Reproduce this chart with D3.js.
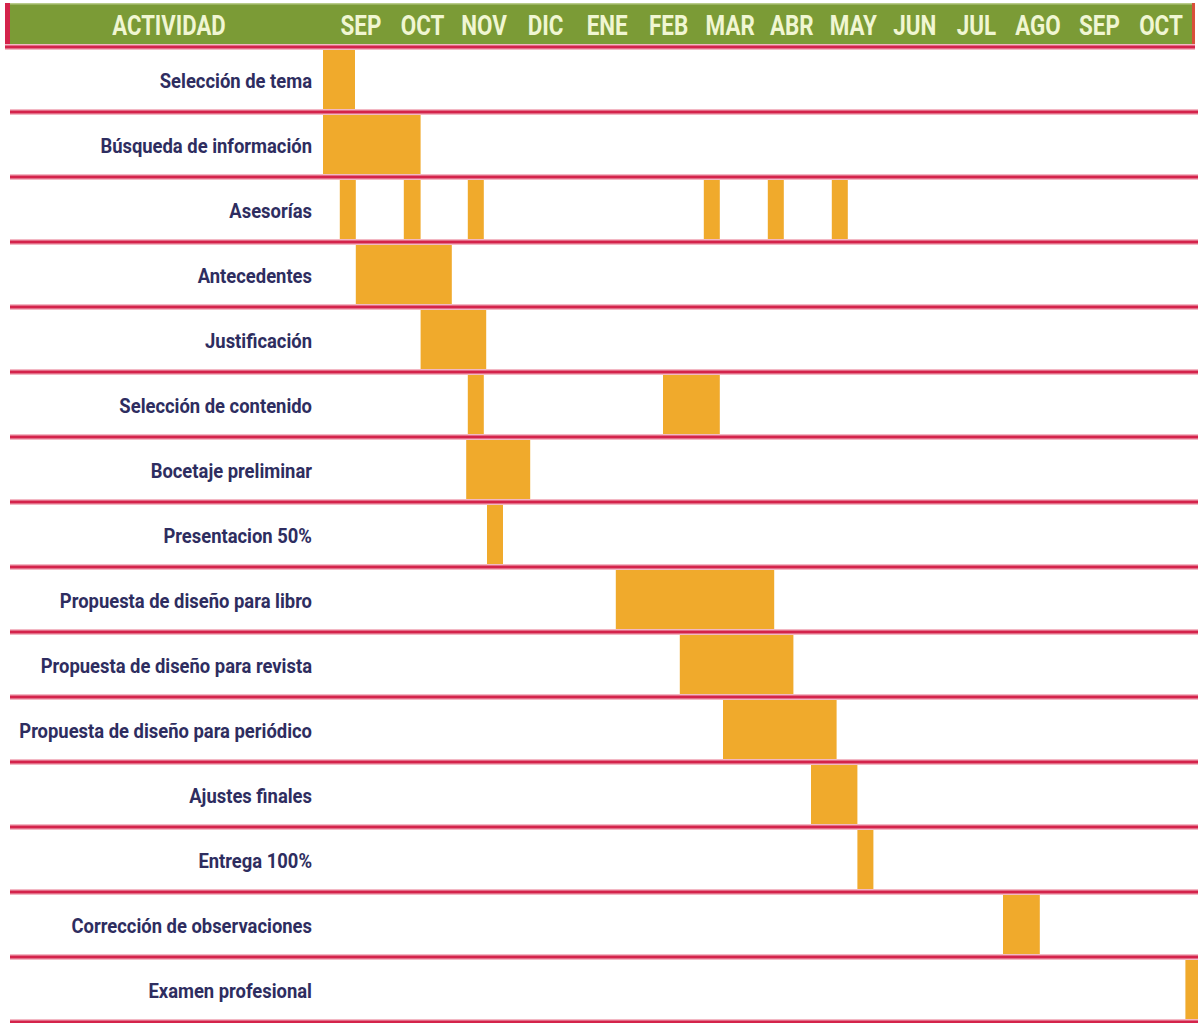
<!DOCTYPE html>
<html>
<head>
<meta charset="utf-8">
<script src="https://cdn.jsdelivr.net/npm/d3@7/dist/d3.min.js"></script>
<style>
  html, body { margin: 0; padding: 0; background: #ffffff; }
  svg { display: block; }
</style>
</head>
<body>
<svg id="chart" width="1198" height="1023"></svg>
<script>
// ---- DATA ----
const headerTitle = "ACTIVIDAD";
const months = ["SEP","OCT","NOV","DIC","ENE","FEB","MAR","ABR","MAY","JUN","JUL","AGO","SEP","OCT"];
const activities = [
  "Selección de tema",
  "Búsqueda de información",
  "Asesorías",
  "Antecedentes",
  "Justificación",
  "Selección de contenido",
  "Bocetaje preliminar",
  "Presentacion 50%",
  "Propuesta de diseño para libro",
  "Propuesta de diseño para revista",
  "Propuesta de diseño para periódico",
  "Ajustes finales",
  "Entrega 100%",
  "Corrección de observaciones",
  "Examen profesional"
];
// bars: activity index, start and end (in weeks from the start of the schedule)
const barTask  = [0, 1, 2, 2, 2, 2, 2, 2, 3, 4, 5, 5, 6, 7, 8, 9, 10, 11, 12, 13, 14];
const barStart = [0, 0, 1.05, 5.05, 9.05, 23.8, 27.8, 31.8, 2.05, 6.1, 9.05, 21.25, 8.95, 10.25, 18.3, 22.3, 25, 30.5, 33.4, 42.5, 53.9];
const barEnd   = [2, 6.1, 2.05, 6.1, 10.05, 24.8, 28.8, 32.8, 8.05, 10.2, 10.05, 24.8, 12.95, 11.25, 28.2, 29.4, 32.1, 33.4, 34.4, 44.8, 55];
const weeksTotal = 55;

// ---- STYLE ----
const green = "#7b9b36";
const headText = "#f0f6d2";
const red = "#d4234b";
const bar = "#f0aa2c";
const labelColor = "#2e2d60";

const svg = d3.select("#chart");

const x = d3.scaleLinear().domain([0, weeksTotal]).range([323, 1203]);
const y = d3.scaleBand().domain(activities).range([47, 1022]).padding(0);
const xm = d3.scalePoint().domain(d3.range(months.length)).range([361, 1161]);

// header band
svg.append("rect").attr("x", 5).attr("y", 3).attr("width", 1190).attr("height", 44).attr("fill", green);
svg.append("rect").attr("x", 5).attr("y", 3).attr("width", 1190).attr("height", 1.5).attr("fill", "#b9cc8a");
svg.append("rect").attr("x", 5).attr("y", 3).attr("width", 5).attr("height", 45).attr("fill", red);
svg.append("rect").attr("x", 1192).attr("y", 3).attr("width", 3).attr("height", 45).attr("fill", "#d9503a");

function condense(sel, factor) {
  sel.each(function() {
    const w = this.getComputedTextLength();
    d3.select(this).attr("textLength", w * factor).attr("lengthAdjust", "spacingAndGlyphs");
  });
}

const headFont = "Roboto, 'Liberation Sans', sans-serif";
svg.append("text")
  .attr("x", 169).attr("y", 35)
  .attr("text-anchor", "middle")
  .attr("font-family", headFont).attr("font-weight", 700).attr("font-size", 28)
  .attr("fill", headText)
  .text(headerTitle)
  .call(condense, 0.79);

svg.append("g").selectAll("text").data(months).join("text")
  .attr("x", (d, i) => xm(i)).attr("y", 35)
  .attr("text-anchor", "middle")
  .attr("font-family", headFont).attr("font-weight", 700).attr("font-size", 28)
  .attr("fill", headText)
  .text(d => d)
  .call(condense, 0.8);

// bars
svg.append("g").selectAll("rect").data(barTask).join("rect")
  .attr("x", (d, i) => x(barStart[i]))
  .attr("width", (d, i) => x(barEnd[i]) - x(barStart[i]))
  .attr("y", d => y(activities[d]))
  .attr("height", y.bandwidth())
  .attr("fill", bar);

// row labels
svg.append("g").selectAll("text").data(activities).join("text")
  .attr("x", 312)
  .attr("y", d => y(d) + y.bandwidth() / 2 + 8)
  .attr("text-anchor", "end")
  .attr("font-family", headFont).attr("font-weight", 700).attr("font-size", 20)
  .attr("fill", labelColor)
  .text(d => d)
  .call(condense, 0.92);

// row separator lines
const boundaries = activities.map(a => y(a)).concat([y(activities[activities.length - 1]) + y.bandwidth()]);
const lines = svg.append("g");
lines.selectAll("line.halo").data(boundaries).join("line").attr("class", "halo")
  .attr("x1", (d, i) => i === 0 ? 5 : 10).attr("x2", (d, i) => i === 0 ? 1195 : 1198)
  .attr("y1", d => d).attr("y2", d => d)
  .attr("stroke", "#f3b8c4").attr("stroke-width", 6);
lines.selectAll("line.main").data(boundaries).join("line").attr("class", "main")
  .attr("x1", (d, i) => i === 0 ? 5 : 10).attr("x2", (d, i) => i === 0 ? 1195 : 1198)
  .attr("y1", d => d).attr("y2", d => d)
  .attr("stroke", red).attr("stroke-width", 3);
</script>
</body>
</html>
